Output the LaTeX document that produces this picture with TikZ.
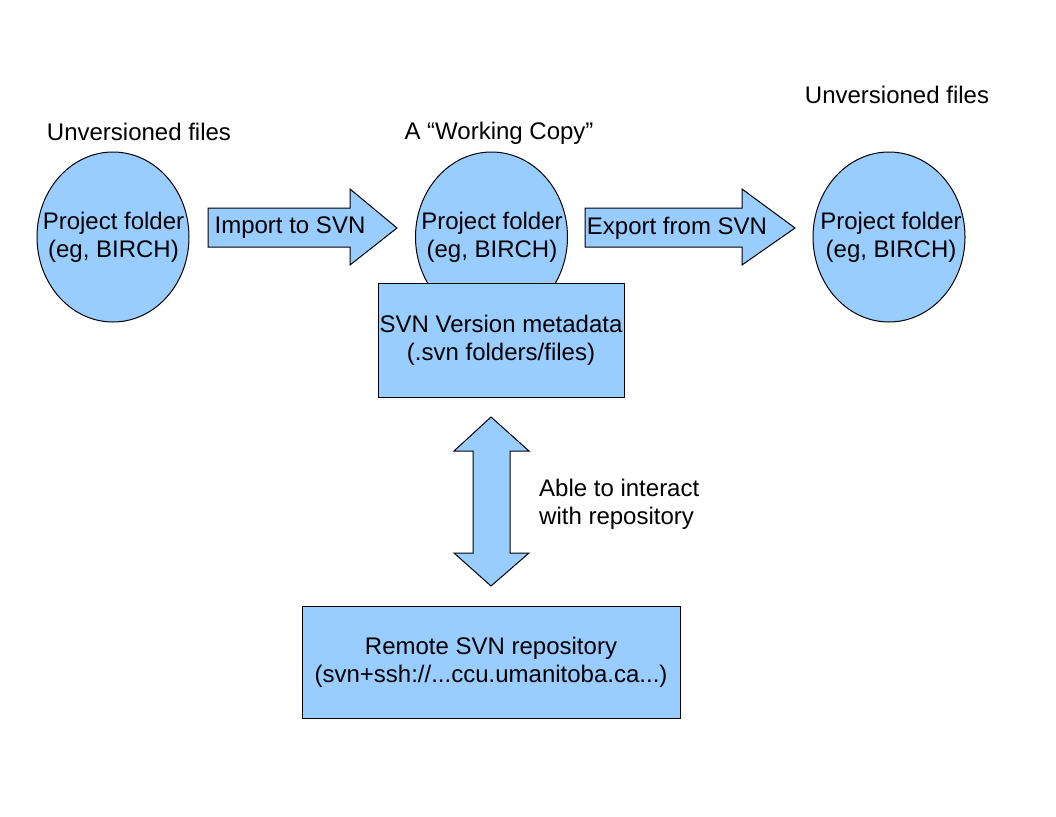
\documentclass[tikz,border=0pt]{standalone}
\usepackage{fontspec}
\setmainfont{Liberation Sans}
\usetikzlibrary{shapes.geometric}
\definecolor{fillblue}{HTML}{99CCFF}
\begin{document}
\begin{tikzpicture}[x=1pt,y=-1pt,
  every node/.style={font=\fontsize{24}{28}\selectfont, align=center, inner sep=0pt},
  blob/.style={ellipse, draw=black, fill=fillblue, line width=1pt, minimum width=152, minimum height=170},
  block/.style={draw=black, fill=fillblue, line width=1pt},
  blockarrow/.style={draw=black, fill=fillblue, line width=1pt, line join=miter}]
\useasboundingbox (0,0) rectangle (1056,816);
% ellipses
\node[blob] (left) at (113,237) {};
\node (lefttxt) at (113.5,237) {Project folder\\(eg, BIRCH)};
\node[blob] (mid) at (491.5,237) {};
\node (midtxt) at (492,237) {Project folder\\(eg, BIRCH)};
\node[blob] (right) at (889,237) {};
\node (righttxt) at (891,237) {Project folder\\(eg, BIRCH)};
% metadata box
\node[block, minimum width=246, minimum height=114] (meta) at (501,340) {SVN Version metadata\\(.svn folders/files)};
% remote box
\node[block, minimum width=378, minimum height=112] (remote) at (491,662) {Remote SVN repository\\(svn+ssh://...ccu.umanitoba.ca...)};
% import arrow
\draw[blockarrow] (208,208) -- (350,208) -- (350,189) -- (397,228) -- (350,265) -- (350,247) -- (208,247) -- cycle;
\node (imp) at (290,228) {Import to SVN};
% export arrow
\draw[blockarrow] (585,208) -- (742,208) -- (742,189) -- (795,228) -- (742,265) -- (742,247) -- (585,247) -- cycle;
\node (exp) at (677,228) {Export from SVN};
% double arrow
\coordinate (dtop) at (491,417);
\coordinate (dbot) at (491,586);
\draw[blockarrow] (dtop) -- (529,451) -- (510,451) -- (510,553) -- (529,553) -- (dbot) -- (454,553) -- (473,553) -- (473,451) -- (454,451) -- cycle;
\node[anchor=west, align=left] (inter) at (539,504) {Able to interact\\with repository};
% labels
\node (ul) at (139,132) {Unversioned files};
\node (wc) at (499,133) {A “Working Copy”};
\node (ur) at (897,95) {Unversioned files};
\end{tikzpicture}
\end{document}
